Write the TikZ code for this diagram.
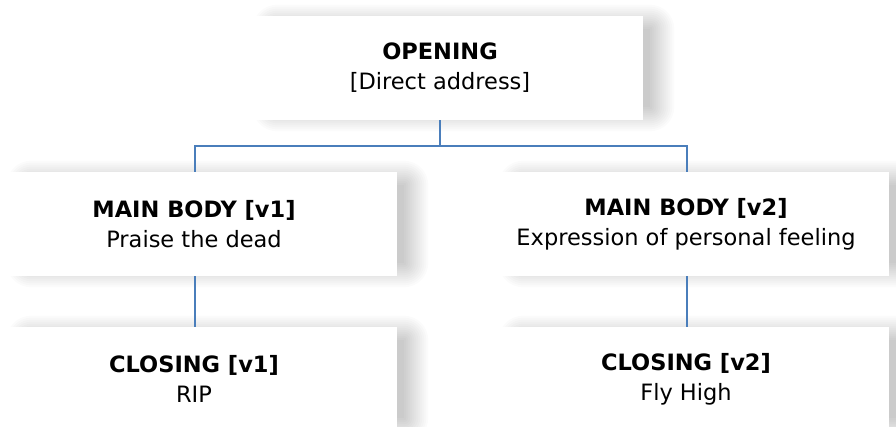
\documentclass[tikz,border=0pt]{standalone}
\usepackage{fontspec}
\setmainfont{DejaVu Sans}
\definecolor{linkblue}{HTML}{4A7EBB}
\pgfdeclarelayer{bottom}
\pgfdeclarelayer{background}
\pgfsetlayers{bottom,background,main}
\tikzset{
  card/.style={rectangle, fill=white, minimum width=406pt, minimum height=104pt,
    align=center, inner sep=0pt,
    font=\fontsize{22.5}{30}\selectfont},
  link/.style={draw=linkblue, line width=2pt},
  shadowstep/.style={fill=black, fill opacity=0.015}
}
\newcommand\cardshadow[1]{%
  \foreach \e in {0,2,...,24}{%
    \fill[shadowstep, rounded corners={\e*1pt}]
      ([xshift={(40-\e)*1pt}, yshift={(13-\e)*1pt}]#1.south west)
      rectangle ([xshift={(7+\e)*1pt}, yshift={(-13+\e)*1pt}]#1.north east);
  }%
}
\begin{document}
\begin{tikzpicture}[x=1pt,y=1pt]
\useasboundingbox (0,0) rectangle (896,426);
\begin{pgfonlayer}{bottom}
\fill[white] (0,0) rectangle (896,426);
\end{pgfonlayer}
\clip (0,0) rectangle (896,426);
\node[card] (open) at (440,358) {\textbf{OPENING}\\{[Direct address]}};
\node[card] (m1) at (194,202) {\textbf{MAIN BODY [v1]}\\Praise the dead};
\node[card] (m2) at (686,202) {\textbf{MAIN BODY [v2]}\\Expression of personal feeling};
\node[card] (c1) at (194,47) {\textbf{CLOSING [v1]}\\RIP};
\node[card] (c2) at (686,47) {\textbf{CLOSING [v2]}\\Fly High};
\coordinate (hub) at (open.south |- 0,280);
\begin{pgfonlayer}{background}
\cardshadow{open}
\cardshadow{m1}
\cardshadow{m2}
\cardshadow{c1}
\cardshadow{c2}
\draw[link] (open.south) -- (hub);
\draw[link] (hub) -| ([xshift=1pt]m1.north);
\draw[link] (hub) -| ([xshift=1pt]m2.north);
\draw[link] ([xshift=1pt]m1.south) -- ([xshift=1pt]c1.north);
\draw[link] ([xshift=1pt]m2.south) -- ([xshift=1pt]c2.north);
\end{pgfonlayer}
\end{tikzpicture}
\end{document}
